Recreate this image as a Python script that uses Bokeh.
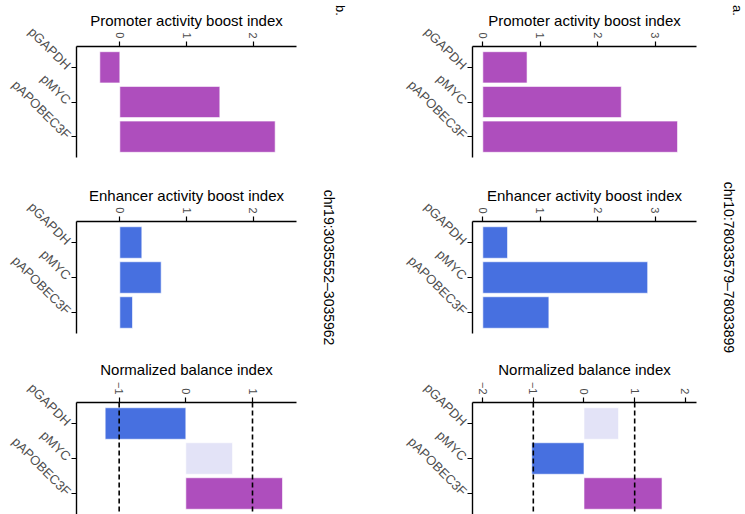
import math

from bokeh.core.properties import value
from bokeh.embed import file_html
from bokeh.layouts import column, row
from bokeh.models import ColumnDataSource, FactorRange, FixedTicker, Range1d, Span
from bokeh.plotting import figure
from bokeh.resources import INLINE

# ---- data -------------------------------------------------------------
promoters = ["pGAPDH", "pMYC", "pAPOBEC3F"]

# a. chr10 region
promoter_boost_a = [0.77, 2.41, 3.39]
enhancer_boost_a = [0.43, 2.87, 1.15]
balance_a = [0.68, -1.03, 1.54]

# b. chr19 region
promoter_boost_b = [-0.30, 1.50, 2.33]
enhancer_boost_b = [0.33, 0.62, 0.19]
balance_b = [-1.21, 0.70, 1.45]

region_a = "chr10:78033579\u201378033899"
region_b = "chr19:3035552\u20133035962"

boost_ticks_a = [0, 1, 2, 3]
boost_ticks_b = [0, 1, 2]
balance_ticks_a = [-2, -1, 0, 1, 2]
balance_ticks_b = [-1, 0, 1]
balance_thresholds = [-1, 1]

# ---- style ------------------------------------------------------------
FONT = "Liberation Sans"
PURPLE = "#AE4EBD"
BLUE = "#4770E0"
LAVENDER = "#E3E3F7"
GREY_TEXT = "#4D4D4D"


def balance_color(v):
    if v > balance_thresholds[1]:
        return PURPLE
    if v < balance_thresholds[0]:
        return BLUE
    return LAVENDER


def tick_label(t):
    return f"\u2212{abs(t)}" if t < 0 else str(t)


def panel(title, vals, colors, xr, ticks, width, height, left, right, top, bottom, dashed=False):
    p = figure(
        width=width, height=height, output_backend="svg", toolbar_location=None,
        x_range=Range1d(*xr),
        y_range=FactorRange(factors=promoters[::-1], range_padding=0.1,
                            range_padding_units="absolute"),
        x_axis_location="above",
        min_border_left=left, min_border_right=right,
        min_border_top=top, min_border_bottom=bottom,
    )
    p.title.text = title
    p.title.align = "center"
    p.title.text_font = FONT
    p.title.text_font_size = "15px"
    p.title.text_font_style = "normal"
    p.title.text_color = "black"
    p.title.standoff = 1

    src = ColumnDataSource(dict(y=promoters, right=vals, color=colors))
    p.hbar(y="y", left=0, right="right", height=0.9, source=src,
           fill_color="color", line_color="white", line_alpha=0.6, line_width=1)

    if dashed:
        for loc in balance_thresholds:
            p.add_layout(Span(location=loc, dimension="height", line_color="black",
                              line_width=1.6, line_dash="5 3"))

    xa = p.xaxis[0]
    xa.ticker = FixedTicker(ticks=ticks)
    xa.major_label_overrides = {t: tick_label(t) for t in ticks}
    xa.major_label_orientation = -math.pi / 2
    xa.major_label_standoff = 3

    ya = p.yaxis[0]
    ya.major_label_orientation = -math.pi / 4
    ya.major_label_standoff = 3

    for ax in (xa, ya):
        ax.axis_line_color = "black"
        ax.axis_line_width = 1.4
        ax.major_tick_line_color = "black"
        ax.major_tick_line_width = 1.2
        ax.major_tick_out = 5
        ax.major_tick_in = 0
        ax.minor_tick_out = 0
        ax.minor_tick_in = 0
        ax.major_label_text_font = FONT
        ax.major_label_text_color = GREY_TEXT
    xa.major_label_text_font_size = "11px"
    ya.major_label_text_font_size = "13px"

    p.grid.visible = False
    p.outline_line_color = None
    p.background_fill_color = "white"
    p.border_fill_color = "white"
    return p


def side(width, region, letter, x_region, x_letter):
    s = figure(width=width, height=514, output_backend="svg", toolbar_location=None,
               x_range=Range1d(0, width), y_range=Range1d(0, 514),
               x_axis_location=None, y_axis_location=None, min_border=0)
    s.grid.visible = False
    s.outline_line_color = None
    s.text(x=[x_region], y=[514 - 267], text=[region], angle=-math.pi / 2,
           text_align="center", text_baseline="middle",
           text_font=value(FONT), text_font_size="14px", text_color="black")
    s.text(x=[x_letter], y=[514 - 10], text=[letter], angle=-math.pi / 2,
           text_align="center", text_baseline="middle",
           text_font=value(FONT), text_font_size="13px", text_color="black")
    return s


def column_of_panels(prom, enh, bal, boost_range, bal_range, boost_ticks, bal_ticks, width, left, right):
    p1 = panel("Promoter activity boost index", prom, [PURPLE] * 3, boost_range, boost_ticks,
               width, 170, left, right, 46, 13)
    p2 = panel("Enhancer activity boost index", enh, [BLUE] * 3, boost_range, boost_ticks,
               width, 170, left, right, 51, 7)
    p3 = panel("Normalized balance index", bal, [balance_color(v) for v in bal], bal_range, bal_ticks,
               width, 174, left, right, 62, 0, dashed=True)
    return column(p1, p2, p3, spacing=0)


col_b = column_of_panels(promoter_boost_b, enhancer_boost_b, balance_b,
                         (-0.65, 2.65), (-1.64, 1.66), boost_ticks_b, balance_ticks_b,
                         310, 73, 14)
col_a = column_of_panels(promoter_boost_a, enhancer_boost_a, balance_a,
                         (-0.18, 3.72), (-2.2, 2.22), boost_ticks_a, balance_ticks_a,
                         340, 102, 14)

side_b = side(60, region_b, "b.", 18, 30)
side_a = side(35, region_a, "a.", 18, 27)

layout = row(col_b, side_b, col_a, side_a, spacing=0)

open("out.html", "w").write(file_html(layout, INLINE))
